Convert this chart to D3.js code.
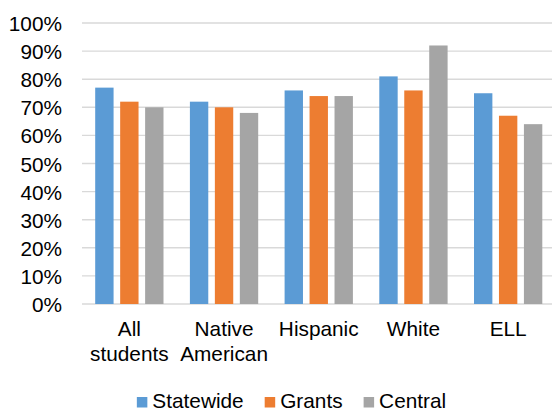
<!DOCTYPE html>
<html>
<head>
<meta charset="utf-8">
<script src="https://cdn.jsdelivr.net/npm/d3@7"></script>
<style>
  html, body { margin: 0; padding: 0; background: #fff; }
  svg { display: block; font-family: "Liberation Sans", Arial, sans-serif; }
</style>
</head>
<body>
<svg id="chart" width="552" height="411"></svg>
<script>
// Category labels (multi-line labels split on "\n")
const categories = ["All\nstudents", "Native\nAmerican", "Hispanic", "White", "ELL"];
const seriesNames = ["Statewide", "Grants", "Central"];
const statewide = [0.77, 0.72, 0.76, 0.81, 0.75];
const grants    = [0.72, 0.70, 0.74, 0.76, 0.67];
const central   = [0.70, 0.68, 0.74, 0.92, 0.64];
const yTicks = [0, 0.1, 0.2, 0.3, 0.4, 0.5, 0.6, 0.7, 0.8, 0.9, 1.0];
const colors = ["#5b9bd5", "#ed7d31", "#a5a5a5"];

const seriesValues = [statewide, grants, central];
const fontSize = 20.8;

const svg = d3.select("#chart");
const plot = { left: 82, right: 555.5, top: 23, bottom: 304 };

const y = d3.scaleLinear().domain([0, 1]).range([plot.bottom, plot.top]);
const x0 = d3.scaleBand().domain(d3.range(categories.length)).range([plot.left, plot.right]).padding(0);
const groupPad = 13.2;
const x1 = d3.scaleBand().domain(d3.range(seriesNames.length))
  .range([groupPad, x0.bandwidth() - groupPad]).paddingInner(0.264).paddingOuter(0);

// Gridlines
svg.append("g").selectAll("line").data(yTicks).join("line")
  .attr("x1", plot.left).attr("x2", plot.right)
  .attr("y1", d => y(d)).attr("y2", d => y(d))
  .attr("stroke", "#d9d9d9").attr("stroke-width", 1.4);

// Y axis labels
const yAxis = d3.axisLeft(y).tickValues(yTicks).tickFormat(d3.format(".0%")).tickSize(0).tickPadding(0);
const yg = svg.append("g").attr("transform", "translate(62,0)").call(yAxis);
yg.select(".domain").remove();
yg.selectAll("text").attr("font-size", fontSize).attr("fill", "#000")
  .attr("font-family", "'Liberation Sans', Arial, sans-serif").attr("dy", "0.36em");

// Bars
const groups = svg.append("g").selectAll("g").data(categories).join("g")
  .attr("transform", (d, i) => `translate(${x0(i)},0)`);
groups.selectAll("rect")
  .data((d, i) => seriesValues.map((vals, s) => ({ s, v: vals[i] })))
  .join("rect")
  .attr("x", d => x1(d.s))
  .attr("width", x1.bandwidth())
  .attr("y", d => y(d.v))
  .attr("height", d => y(0) - y(d.v))
  .attr("fill", d => colors[d.s]);

// Category labels
const xl = svg.append("g").selectAll("text").data(categories).join("text")
  .attr("x", (d, i) => x0(i) + x0.bandwidth() / 2)
  .attr("y", 336)
  .attr("text-anchor", "middle")
  .attr("font-size", fontSize)
  .attr("fill", "#000");
xl.selectAll("tspan").data(d => d.split("\n")).join("tspan")
  .attr("x", function() { return this.parentNode.getAttribute("x"); })
  .attr("dy", (d, i) => i === 0 ? 0 : 25)
  .text(d => d);

// Legend
const legend = svg.append("g");
const items = legend.selectAll("g").data(seriesNames).join("g");
items.append("rect").attr("width", 10.5).attr("height", 10.5).attr("y", 397)
  .attr("fill", (d, i) => colors[i]);
items.append("text").attr("x", 15.5).attr("y", 407.5)
  .attr("font-size", fontSize).attr("fill", "#000").text(d => d);
const widths = [];
items.each(function() { widths.push(this.getBBox().width); });
const gap = 21;
const total = d3.sum(widths) + gap * (widths.length - 1);
let start = 291.5 - total / 2;
items.attr("transform", (d, i) => {
  const t = `translate(${start},0)`;
  start += widths[i] + gap;
  return t;
});
</script>
</body>
</html>
